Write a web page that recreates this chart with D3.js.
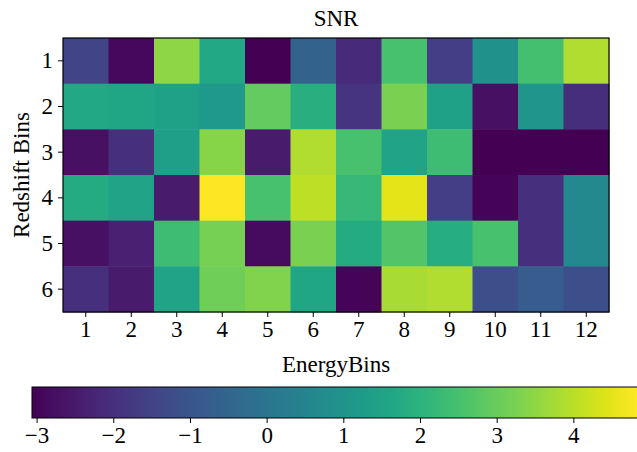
<!DOCTYPE html>
<html><head><meta charset="utf-8">
<script src="https://cdn.jsdelivr.net/npm/d3@7"></script>
<style>body{margin:0;background:#fff;} svg{display:block;} text{font-family:"Liberation Serif","DejaVu Serif",serif;fill:#000;}</style>
</head><body>
<svg id="c" width="637" height="452"></svg>
<script>
const energyBins = [1,2,3,4,5,6,7,8,9,10,11,12];
const redshiftBins = [1,2,3,4,5,6];
const row1 = [-1.48,-2.9,3.49,1.67,-3.06,-0.61,-2.11,2.54,-1.64,0.89,2.46,3.88];
const row2 = [1.67,1.62,1.44,1.2,2.94,1.91,-1.88,3.25,1.44,-2.74,1.04,-2.03];
const row3 = [-2.75,-1.96,1.36,3.41,-2.5,3.88,2.54,1.52,2.38,-3.05,-3.04,-3.03];
const row4 = [1.75,1.52,-2.5,4.83,2.54,4.04,2.23,4.51,-1.64,-2.98,-1.96,0.65];
const row5 = [-2.75,-2.35,2.38,3.17,-2.82,3.25,1.75,2.7,1.83,2.54,-1.96,0.65];
const row6 = [-1.96,-2.5,1.52,3.1,3.33,1.6,-2.98,3.8,3.88,-1.17,-0.77,-1.17];
const snrRows = [row1,row2,row3,row4,row5,row6];
const colorTicks = [-3,-2,-1,0,1,2,3,4];

const svg = d3.select("#c");
const L=63,R=609,T=38,B=312;
const x = d3.scaleBand().domain(energyBins).range([L,R]).padding(0);
const y = d3.scaleBand().domain(redshiftBins).range([T,B]).padding(0);
const all = snrRows.flat();
const ext = d3.extent(all);
const color = d3.scaleSequential(d3.interpolateViridis).domain(ext);

const cells = [];
snrRows.forEach((r,i)=>r.forEach((v,j)=>cells.push({r:redshiftBins[i],c:energyBins[j],v})));
svg.append("g").selectAll("rect").data(cells).join("rect")
  .attr("x",d=>x(d.c)).attr("y",d=>y(d.r))
  .attr("width",x.bandwidth()+0.5).attr("height",y.bandwidth()+0.5)
  .attr("fill",d=>color(d.v));
svg.append("rect").attr("x",L).attr("y",T).attr("width",R-L).attr("height",B-T)
  .attr("fill","none").attr("stroke","#000").attr("stroke-width",1.2);

const fs = 23;
const xa = svg.append("g").attr("transform",`translate(0,${B})`)
  .call(d3.axisBottom(x).tickSize(5).tickPadding(4));
const ya = svg.append("g").attr("transform",`translate(${L},0)`)
  .call(d3.axisLeft(y).tickSize(5).tickPadding(5));
[xa,ya].forEach(a=>{a.select(".domain").remove();
  a.selectAll("line").attr("stroke","#000").attr("stroke-width",1);
  a.selectAll("text").attr("font-size",fs).attr("font-family","Liberation Serif, serif").attr("fill","#000");});

svg.append("text").attr("x",(L+R)/2).attr("y",26).attr("text-anchor","middle").attr("font-size",fs).text("SNR");
svg.append("text").attr("x",(L+R)/2).attr("y",372).attr("text-anchor","middle").attr("font-size",fs).text("EnergyBins");
svg.append("text").attr("transform",`translate(29,${(T+B)/2}) rotate(-90)`).attr("text-anchor","middle").attr("font-size",fs).text("Redshift Bins");

// colorbar
const cbL=32, cbR=637, cbT=387, cbB=418;
const cx = d3.scaleLinear().domain(ext).range([cbL,cbR]);
const defs = svg.append("defs");
const grad = defs.append("linearGradient").attr("id","g").attr("x1","0%").attr("x2","100%");
d3.range(0,1.0001,0.05).forEach(t=>grad.append("stop").attr("offset",(t*100)+"%").attr("stop-color",d3.interpolateViridis(t)));
svg.append("rect").attr("x",cbL).attr("y",cbT).attr("width",cbR-cbL).attr("height",cbB-cbT).attr("fill","url(#g)");
svg.append("rect").attr("x",cbL).attr("y",cbT).attr("width",cbR-cbL+2).attr("height",cbB-cbT).attr("fill","none").attr("stroke","#000").attr("stroke-width",1);
const ca = svg.append("g").attr("transform",`translate(0,${cbB})`)
  .call(d3.axisBottom(cx).tickValues(colorTicks).tickSize(5).tickPadding(4).tickFormat(d=>d<0?"\u2212"+Math.abs(d):d));
ca.select(".domain").remove();
ca.selectAll("line").attr("stroke","#000");
ca.selectAll("text").attr("font-size",fs).attr("font-family","Liberation Serif, serif").attr("fill","#000");
</script>
</body></html>
